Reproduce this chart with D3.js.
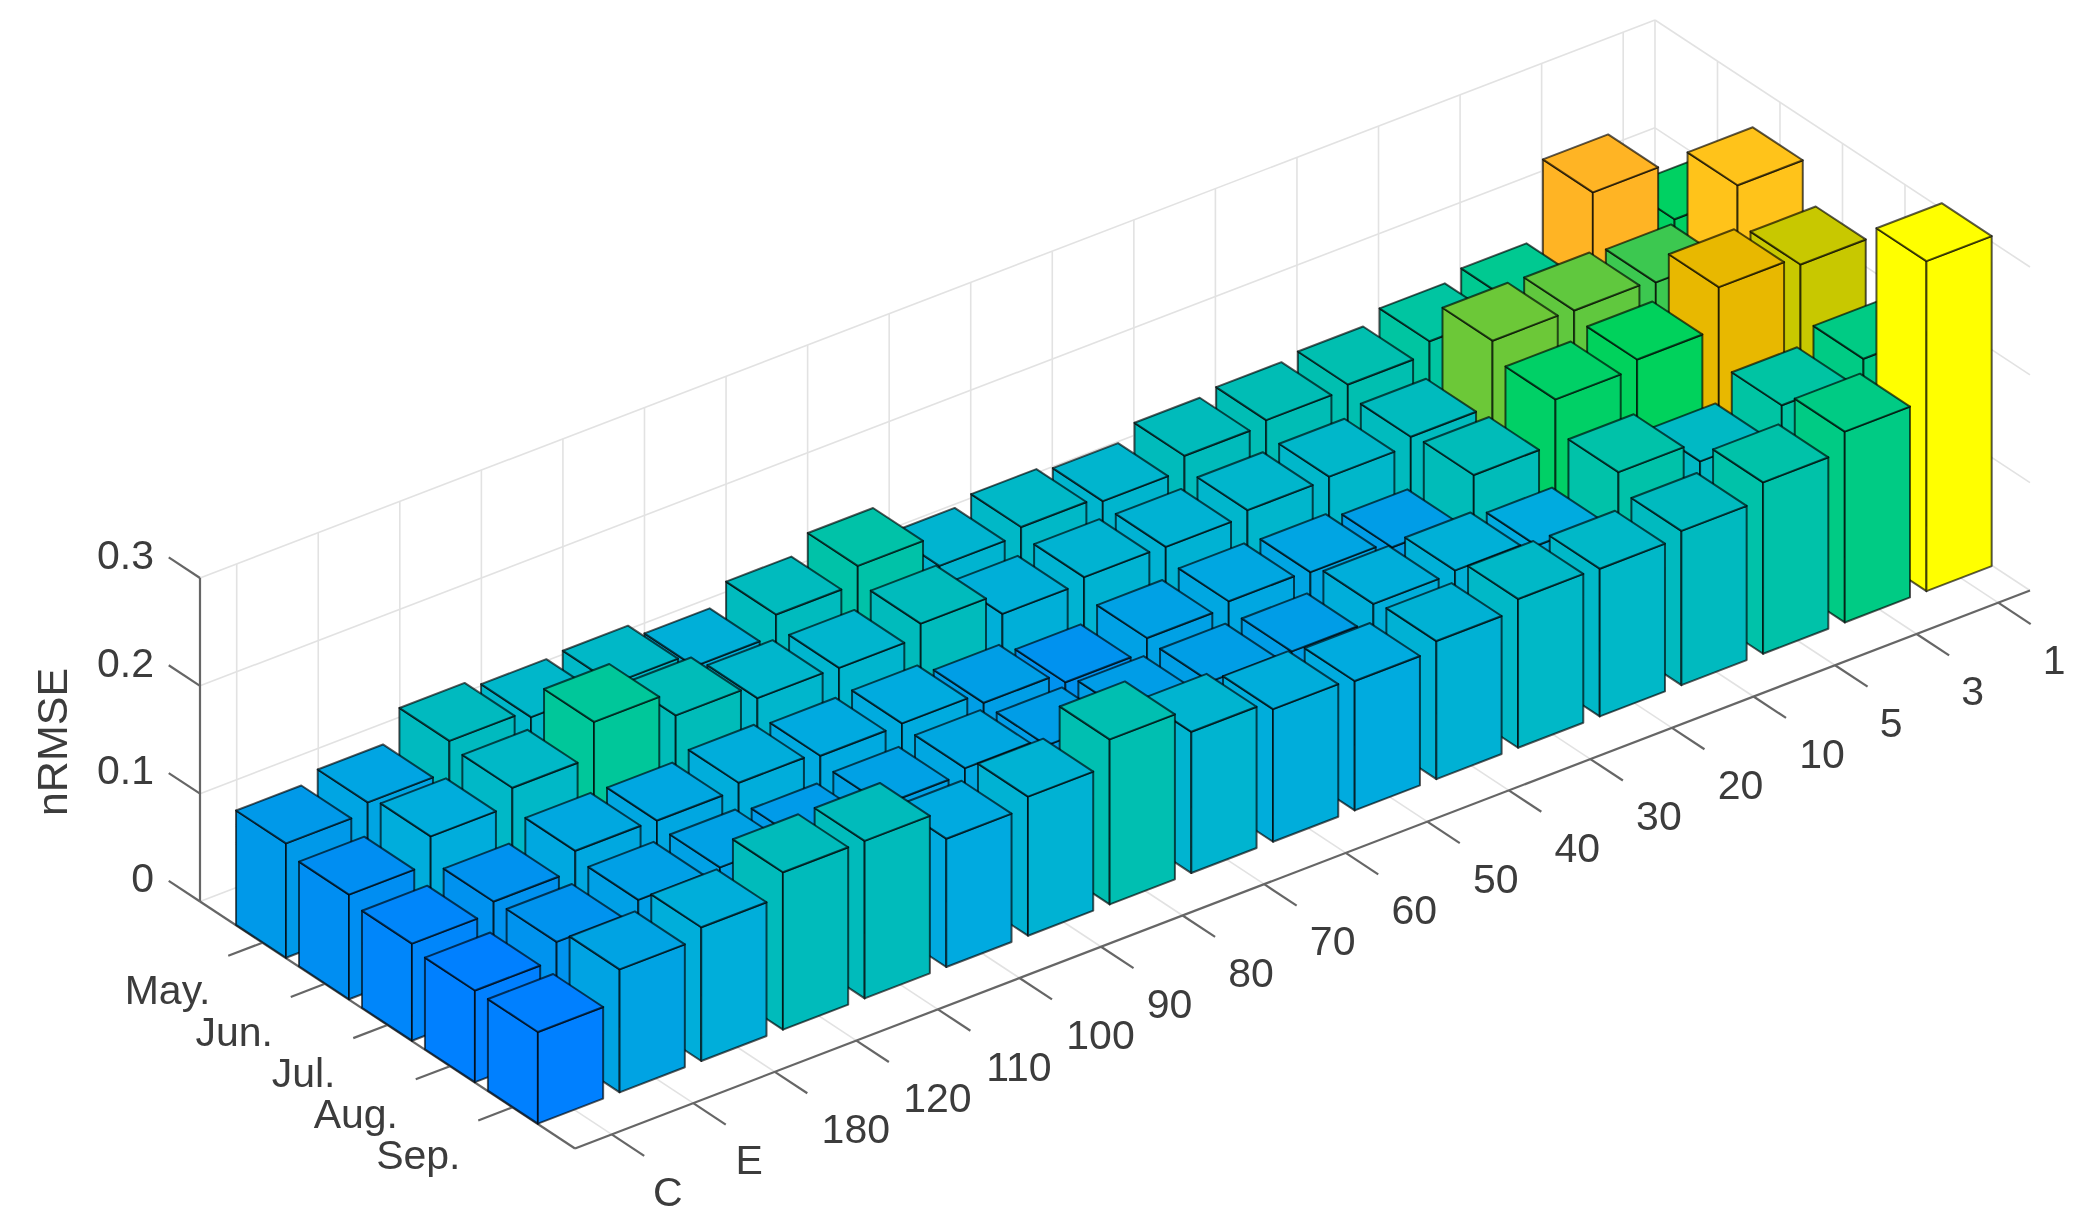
<!DOCTYPE html>
<html><head><meta charset="utf-8">
<script src="https://cdn.jsdelivr.net/npm/d3@7"></script>
<style>html,body{margin:0;padding:0;background:#fff}svg{display:block;filter:blur(.7px)}text{font-family:"Liberation Sans",Arial,sans-serif;fill:#3c3c3c}</style>
</head><body><svg id="c" width="2093" height="1232"></svg>
<script>
const categories=["C","E","180","120","110","100","90","80","70","60","50","40","30","20","10","5","3","1"];
const months=["May.","Jun.","Jul.","Aug.","Sep."];
const zTicks=[0,0.1,0.2,0.3];
const may=[.106,.115,.143,.136,.138,.125,.144,.160,.131,.138,.133,.146,.150,.154,.165,.173,.245,.191];
const jun=[.097,.122,.138,.170,.147,.134,.133,.145,.125,.130,.129,.134,.136,.144,.204,.203,.200,.261];
const jul=[.090,.100,.118,.117,.123,.119,.120,.110,.100,.112,.117,.115,.109,.147,.188,.196,.234,.226];
const aug=[.085,.101,.111,.112,.107,.112,.117,.109,.109,.110,.109,.124,.126,.120,.159,.140,.163,.177];
const sep=[.085,.114,.124,.146,.146,.119,.129,.153,.131,.123,.120,.128,.138,.137,.143,.159,.177,.306];
const series=[may,jun,jul,aug,sep];
const colorStops=[.085,.105,.120,.135,.150,.170,.186,.196,.200,.204,.226,.234,.245,.261,.306];
const colorRange=["#0080ff","#0098ea","#00abdf","#00b7cb","#00bdb5","#00c79a","#00cf68","#00d25c","#3cc850","#6cc838","#c8c800","#e8b800","#ffb424","#ffc31a","#ffff00"];

const svg=d3.select("#c");
const xMin=.55,xMax=18.39,yMin=0,yMax=6,zMax=.3;
const xs=d3.scaleLinear().domain([xMin,xMax]);
const ysc=d3.scaleLinear().domain([yMin,yMax]);
const zs=d3.scaleLinear().domain([0,zMax]);
const sx=xs.copy().range([0,1455]), sxy=xs.copy().range([0,-558]);
const yx=ysc.copy().range([0,375]), yy=ysc.copy().range([0,247]);
const zy=zs.copy().range([0,-323.5]);
const L=[200,901.5];
const P=(x,y,z)=>[L[0]+sx(x)+yx(y),L[1]+sxy(x)+yy(y)+zy(z)];
const line=d3.line();
const color=d3.scaleLinear().domain(colorStops).range(colorRange).clamp(true);
// bar centres sit very slightly off the tick marks in the reference
const barX=d3.scaleLinear().domain([0,17]).range([.955,17.98]);
const barY=d3.scaleLinear().domain([0,4]).range([.97,5]);

const xIdx=d3.range(1,categories.length+1), yIdx=d3.range(1,months.length+1);
const grid=svg.append("g").attr("fill","none").attr("stroke","#e2e2e2").attr("stroke-width",1.6);
const seg=(g,a,b)=>g.append("path").attr("d",line([a,b]));
zTicks.forEach(z=>{seg(grid,P(xMin,yMin,z),P(xMax,yMin,z));seg(grid,P(xMax,yMin,z),P(xMax,yMax,z));});
xIdx.forEach(x=>{seg(grid,P(x,yMin,0),P(x,yMin,zMax));seg(grid,P(x,yMin,0),P(x,yMax,0));});
yIdx.forEach(y=>{seg(grid,P(xMax,y,0),P(xMax,y,zMax));seg(grid,P(xMin,y,0),P(xMax,y,0));});
seg(grid,P(xMax,yMin,0),P(xMax,yMin,zMax));

const axis=svg.append("g").attr("fill","none").attr("stroke","#666").attr("stroke-width",2.2);
seg(axis,P(xMin,yMin,0),P(xMin,yMin,zMax));
seg(axis,P(xMin,yMin,0),P(xMin,yMax,0));
seg(axis,P(xMin,yMax,0),P(xMax,yMax,0));
zTicks.forEach(z=>seg(axis,P(xMin,yMin,z),P(xMin,yMin-.5,z)));
xIdx.forEach(x=>seg(axis,P(x,yMax,0),P(x,yMax+.52,0)));
yIdx.forEach(y=>seg(axis,P(xMin,y,0),P(xMin-.42,y,0)));

const hw=.4;
const bars=svg.append("g").attr("stroke","#000").attr("stroke-opacity",.65).attr("stroke-width",2).attr("stroke-linejoin","round");
series.forEach((vals,j)=>{
  for(let i=vals.length-1;i>=0;i--){
    const v=vals[i],x=barX(i),y=barY(j),c=color(v);
    const g=bars.append("g").attr("fill",c);
    const f=(pts)=>g.append("path").attr("d",line(pts)+"Z");
    f([P(x-hw,y+hw,0),P(x-hw,y+hw,v),P(x-hw,y-hw,v),P(x-hw,y-hw,0)]);
    f([P(x-hw,y+hw,0),P(x-hw,y+hw,v),P(x+hw,y+hw,v),P(x+hw,y+hw,0)]);
    f([P(x-hw,y+hw,v),P(x+hw,y+hw,v),P(x+hw,y-hw,v),P(x-hw,y-hw,v)]);
  }
});

const fs=41;
const labels=svg.append("g").attr("font-size",fs);
zTicks.forEach(z=>{const p=P(xMin,yMin,z);
  labels.append("text").attr("x",p[0]-46).attr("y",p[1]-24).attr("dy",".36em").attr("text-anchor","end").text(z===0?"0":z.toFixed(1));});
months.forEach((m,j)=>{const p=P(xMin,j+1,0);
  labels.append("text").attr("x",p[0]-52).attr("y",p[1]+47).attr("dy",".36em").attr("text-anchor","end").text(m);});
categories.forEach((c,i)=>{const p=P(i+1,yMax,0);
  labels.append("text").attr("x",p[0]+56+(c.length-1)*12.5).attr("y",p[1]+56.5).attr("dy",".36em").attr("text-anchor","middle").text(c);});
labels.append("text").attr("transform","translate(52,742) rotate(-90)").attr("text-anchor","middle").attr("dy",".36em").attr("font-size",43).text("nRMSE");
</script></body></html>
